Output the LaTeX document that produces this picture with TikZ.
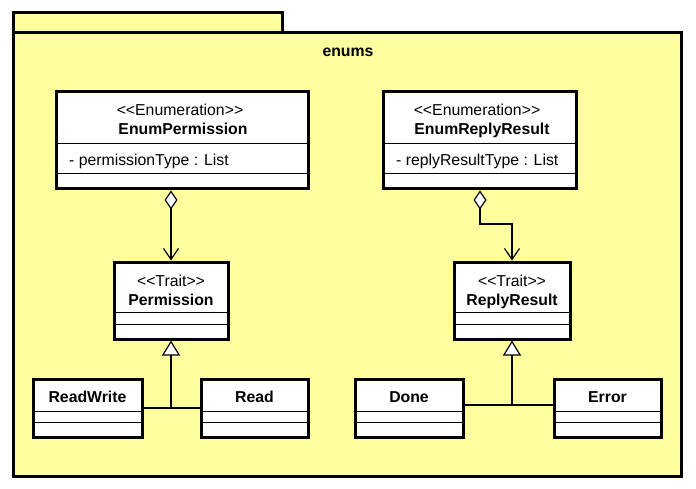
\documentclass[tikz,border=0pt]{standalone}
\usepackage{fontspec}
\setmainfont{Liberation Sans}
\usepackage{tikz}
\tikzset{every picture/.style={font issue=\fontsize{15.8}{19}},
         font issue/.style={execute at begin picture={#1\selectfont}}
        }
\usetikzlibrary{arrows.meta}
\usetikzlibrary{positioning}
\definecolor{pkgyellow}{RGB}{255,255,160}
\tikzstyle{pkg}=[draw,line width=3pt,fill=pkgyellow,inner sep=0,outer sep=0]
\tikzstyle{class}=[draw,line width=3pt,fill=white,inner sep=0]
\tikzstyle{txt}=[inner sep=0,text height=11pt,text depth=3pt]
\tikzstyle{sep}=[draw,line width=1pt]
\tikzstyle{agg}=[draw,line width=1.2pt,
{Diamond[fill=white,length=19pt,width=13pt]}-{Straight Barb[length=11pt,width=15pt]}]
\tikzstyle{gen}=[draw,line width=1.2pt,-{Triangle[fill=white,length=15pt,width=18pt]}]

\begin{document}
\begin{tikzpicture}[x=1pt,y=-1pt]
	\useasboundingbox[fill=white] (0,0) rectangle (696,489);
	
	% package
	\node[pkg,minimum width=668pt,minimum height=443pt] (enums) at (347,254.5) {};
	\node[pkg,minimum width=269pt,minimum height=20pt,anchor=south west] (tab) at (enums.north west) {};
	\node[txt,font=\bfseries] (enums-nm) at (348,53) {enums};
	
	% enumerations
	\node[class,minimum width=252pt,minimum height=97pt] (ep) at (182,140.5) {};
	\node[class,minimum width=193pt,minimum height=97pt] (er) at (479.5,140.5) {};
	\path[sep] (ep.west |- 0,143.5) -- (ep.east |- 0,143.5);
	\path[sep] (ep.west |- 0,174) -- (ep.east |- 0,174);
	\path[sep] (er.west |- 0,143.5) -- (er.east |- 0,143.5);
	\path[sep] (er.west |- 0,174) -- (er.east |- 0,174);
	\node[txt] (ep-st) at (180,112) {<{}<Enumeration>{}>};
	\node[txt,font=\bfseries] (ep-nm) at (183,131) {EnumPermission};
	\node[txt,anchor=west] (ep-at) at (69,162) {- permissionType : List};
	\node[txt] (er-st) at (477,112) {<{}<Enumeration>{}>};
	\node[txt,font=\bfseries] (er-nm) at (482,131) {EnumReplyResult};
	\node[txt,anchor=west] (er-at) at (396,162) {- replyResultType : List};
	
	% traits
	\node[class,minimum width=114pt,minimum height=77pt] (pm) at (171,300.5) {};
	\node[class,minimum width=116pt,minimum height=77pt] (rr) at (512,300.5) {};
	\path[sep] (pm.west |- 0,312.5) -- (pm.east |- 0,312.5);
	\path[sep] (pm.west |- 0,324.5) -- (pm.east |- 0,324.5);
	\path[sep] (rr.west |- 0,312.5) -- (rr.east |- 0,312.5);
	\path[sep] (rr.west |- 0,324.5) -- (rr.east |- 0,324.5);
	\node[txt] (pm-st) at (171,282) {<{}<Trait>{}>};
	\node[txt,font=\bfseries] (pm-nm) at (171,301) {Permission};
	\node[txt] (rr-st) at (512,282) {<{}<Trait>{}>};
	\node[txt,font=\bfseries] (rr-nm) at (512,301) {ReplyResult};
	
	% objects
	\node[class,minimum width=109pt,minimum height=58pt] (rw) at (87.5,408) {};
	\node[class,minimum width=107pt,minimum height=58pt] (rd) at (254.5,408) {};
	\node[class,minimum width=108pt,minimum height=58pt] (dn) at (409,408) {};
	\node[class,minimum width=107pt,minimum height=58pt] (err) at (607.5,408) {};
	\foreach \b in {rw,rd,dn,err}{
		\path[sep] (\b.west |- 0,411) -- (\b.east |- 0,411);
		\path[sep] (\b.west |- 0,422) -- (\b.east |- 0,422);
	}
	\node[txt,font=\bfseries] (rw-nm) at (87.5,398) {ReadWrite};
	\node[txt,font=\bfseries] (rd-nm) at (254.5,398) {Read};
	\node[txt,font=\bfseries] (dn-nm) at (409,398) {Done};
	\node[txt,font=\bfseries] (err-nm) at (607.5,398) {Error};
	
	% aggregations
	\path[agg] (pm.north |- ep.south) -- (pm.north);
	\coordinate (erj) at (480,224);
	\path[agg] (erj |- er.south) -- (erj) -| (rr.north);
	
	% generalizations
	\path[draw,line width=1.2pt] (rw.east) -- (rd.west);
	\path[gen] (pm.south |- rw.east) -- (pm.south);
	\coordinate[yshift=3pt] (dnj) at (dn.east);
	\coordinate[yshift=3pt] (errj) at (err.west);
	\path[draw,line width=1.2pt] (dnj) -- (errj);
	\path[gen] (rr.south |- dnj) -- (rr.south);
\end{tikzpicture}
\end{document}
